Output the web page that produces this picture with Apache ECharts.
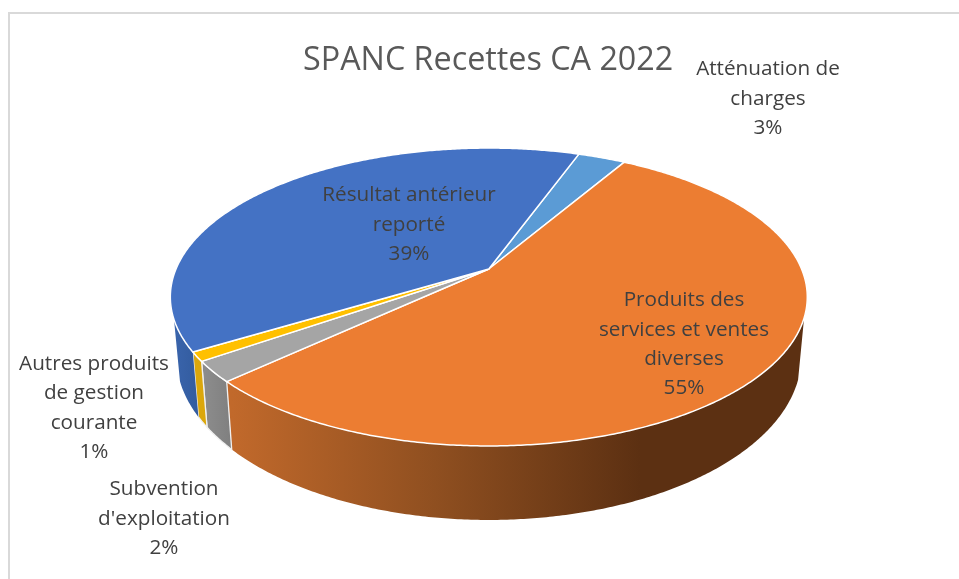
<!DOCTYPE html>
<html>
<head>
<meta charset="utf-8">
<style>html,body{margin:0;padding:0;background:#fff}#c{width:959px;height:579px}</style>
<script src="https://cdn.jsdelivr.net/npm/echarts@6/dist/echarts.min.js"></script>
</head>
<body>
<div id="c"></div>
<script>
var titleText = "SPANC Recettes CA 2022";
var categories = ["Atténuation de\ncharges", "Produits des\nservices et ventes\ndiverses", "Subvention\nd'exploitation", "Autres produits\nde gestion\ncourante", "Résultat antérieur\nreporté"];
var values = [2.9, 54.6, 2.25, 1.0, 39.2];
var topColors = ["#5b9bd5", "#ec7d32", "#a5a5a5", "#ffc000", "#4472c4"];

// Layout of the tilted disc (a circle seen in perspective)
var startDeg = 19.8, visFrom = 108.7, visTo = 250.7;
var CX = 488.8, CY = 269, A = 312.8, B = 143.7, K = 0.188;
var SHRINK = 0.981, DROP = 57, DROP_K = 0.096;
var labelCentres = [[768, 99], [684, 344.5], [164, 519], [94, 408], [409, 225]];
var FONT = '"Open Sans", sans-serif';

var total = values.reduce(function (a, b) { return a + b; }, 0);
var cumul = [];
values.reduce(function (acc, v, i) { cumul[i] = acc; return acc + v; }, 0);
function startOf(i) { return startDeg + cumul[i] / total * 360; }

function topPoint(deg, r) {
  var t = deg * Math.PI / 180, u = r * Math.sin(t), v = -r * Math.cos(t), w = 1 - K * v;
  return [CX + A * u / w, CY + B * v / w];
}
function bottomPoint(deg) {
  var p = topPoint(deg, 1);
  return [CX + SHRINK * (p[0] - CX), p[1] + DROP + DROP_K * (p[1] - CY)];
}
function grad(x0, x1, stops) {
  return { type: 'linear', x: x0, y: 0, x2: x1, y2: 0, global: true,
    colorStops: stops.map(function (s) { return { offset: s[0], color: s[1] }; }) };
}
var wallFills = [
  "#5b9bd5",
  grad(232, 640, [[0, "#c1692b"], [0.5, "#8f4f20"], [1, "#5c3012"]]),
  grad(205, 232, [[0, "#8c8c8c"], [1, "#7f7f7f"]]),
  "#dba70c",
  grad(172, 197, [[0, "#3a65ad"], [1, "#335c9f"]])
];

function topItem(params, api) {
  var i = params.dataIndex, a = startOf(i), b = a + api.value(0) / total * 360, pts = [[CX, CY]];
  for (var d = a; d < b; d += 0.5) pts.push(topPoint(d, 1));
  pts.push(topPoint(b, 1));
  return { type: 'polygon', shape: { points: pts },
    style: { fill: topColors[i], stroke: '#fff', lineWidth: 1.5, lineJoin: 'round' } };
}
function wallItem(params, api) {
  var i = params.dataIndex, a = startOf(i), b = a + api.value(0) / total * 360, lo, hi;
  // the visible front rim, allowing for the wrap around 360 degrees
  var offs = [0, 360, -360], best = null;
  offs.forEach(function (o) {
    var l = Math.max(a + o, visFrom), h = Math.min(b + o, visTo);
    if (h > l && (!best || h - l > best[1] - best[0])) best = [l, h];
  });
  if (!best) return null;
  lo = best[0]; hi = best[1];
  var up = [], down = [];
  for (var d = lo; d < hi; d += 0.5) { up.push(topPoint(d, 1)); down.push(bottomPoint(d)); }
  up.push(topPoint(hi, 1)); down.push(bottomPoint(hi));
  return { type: 'polygon', shape: { points: up.concat(down.reverse()) },
    style: { fill: wallFills[i], stroke: i === 1 || i === 4 ? null : '#f0f0f0', lineWidth: 1.3 } };
}
function labelItem(params, api) {
  var i = params.dataIndex, c = labelCentres[i];
  return { type: 'text', x: c[0], y: c[1],
    style: { text: categories[i] + "\n" + Math.round(api.value(0) / total * 100) + "%",
      fill: '#404040', font: '20.7px ' + FONT, lineHeight: 29.4, align: 'center', verticalAlign: 'middle' } };
}

var chart = echarts.init(document.getElementById('c'), null, { renderer: 'canvas' });
chart.setOption({
  animation: false,
  backgroundColor: '#ffffff',
  title: { text: titleText, left: 303, top: 45, padding: 0,
    textStyle: { color: '#595959', fontFamily: FONT, fontWeight: 'normal', fontSize: 32.3 } },
  graphic: [
    { type: 'line', shape: { x1: 8, y1: 13, x2: 959, y2: 13 }, style: { stroke: '#d9d9d9', lineWidth: 2 } },
    { type: 'line', shape: { x1: 9, y1: 12, x2: 9, y2: 579 }, style: { stroke: '#d9d9d9', lineWidth: 2 } }
  ],
  series: [
    { type: 'custom', coordinateSystem: 'none', z: 1, silent: true, renderItem: wallItem, data: values.map(function (v) { return [v]; }) },
    { type: 'custom', coordinateSystem: 'none', z: 2, silent: true, renderItem: topItem, data: values.map(function (v) { return [v]; }) },
    { type: 'custom', coordinateSystem: 'none', z: 3, silent: true, renderItem: labelItem, data: values.map(function (v) { return [v]; }) }
  ]
});
</script>
</body>
</html>
